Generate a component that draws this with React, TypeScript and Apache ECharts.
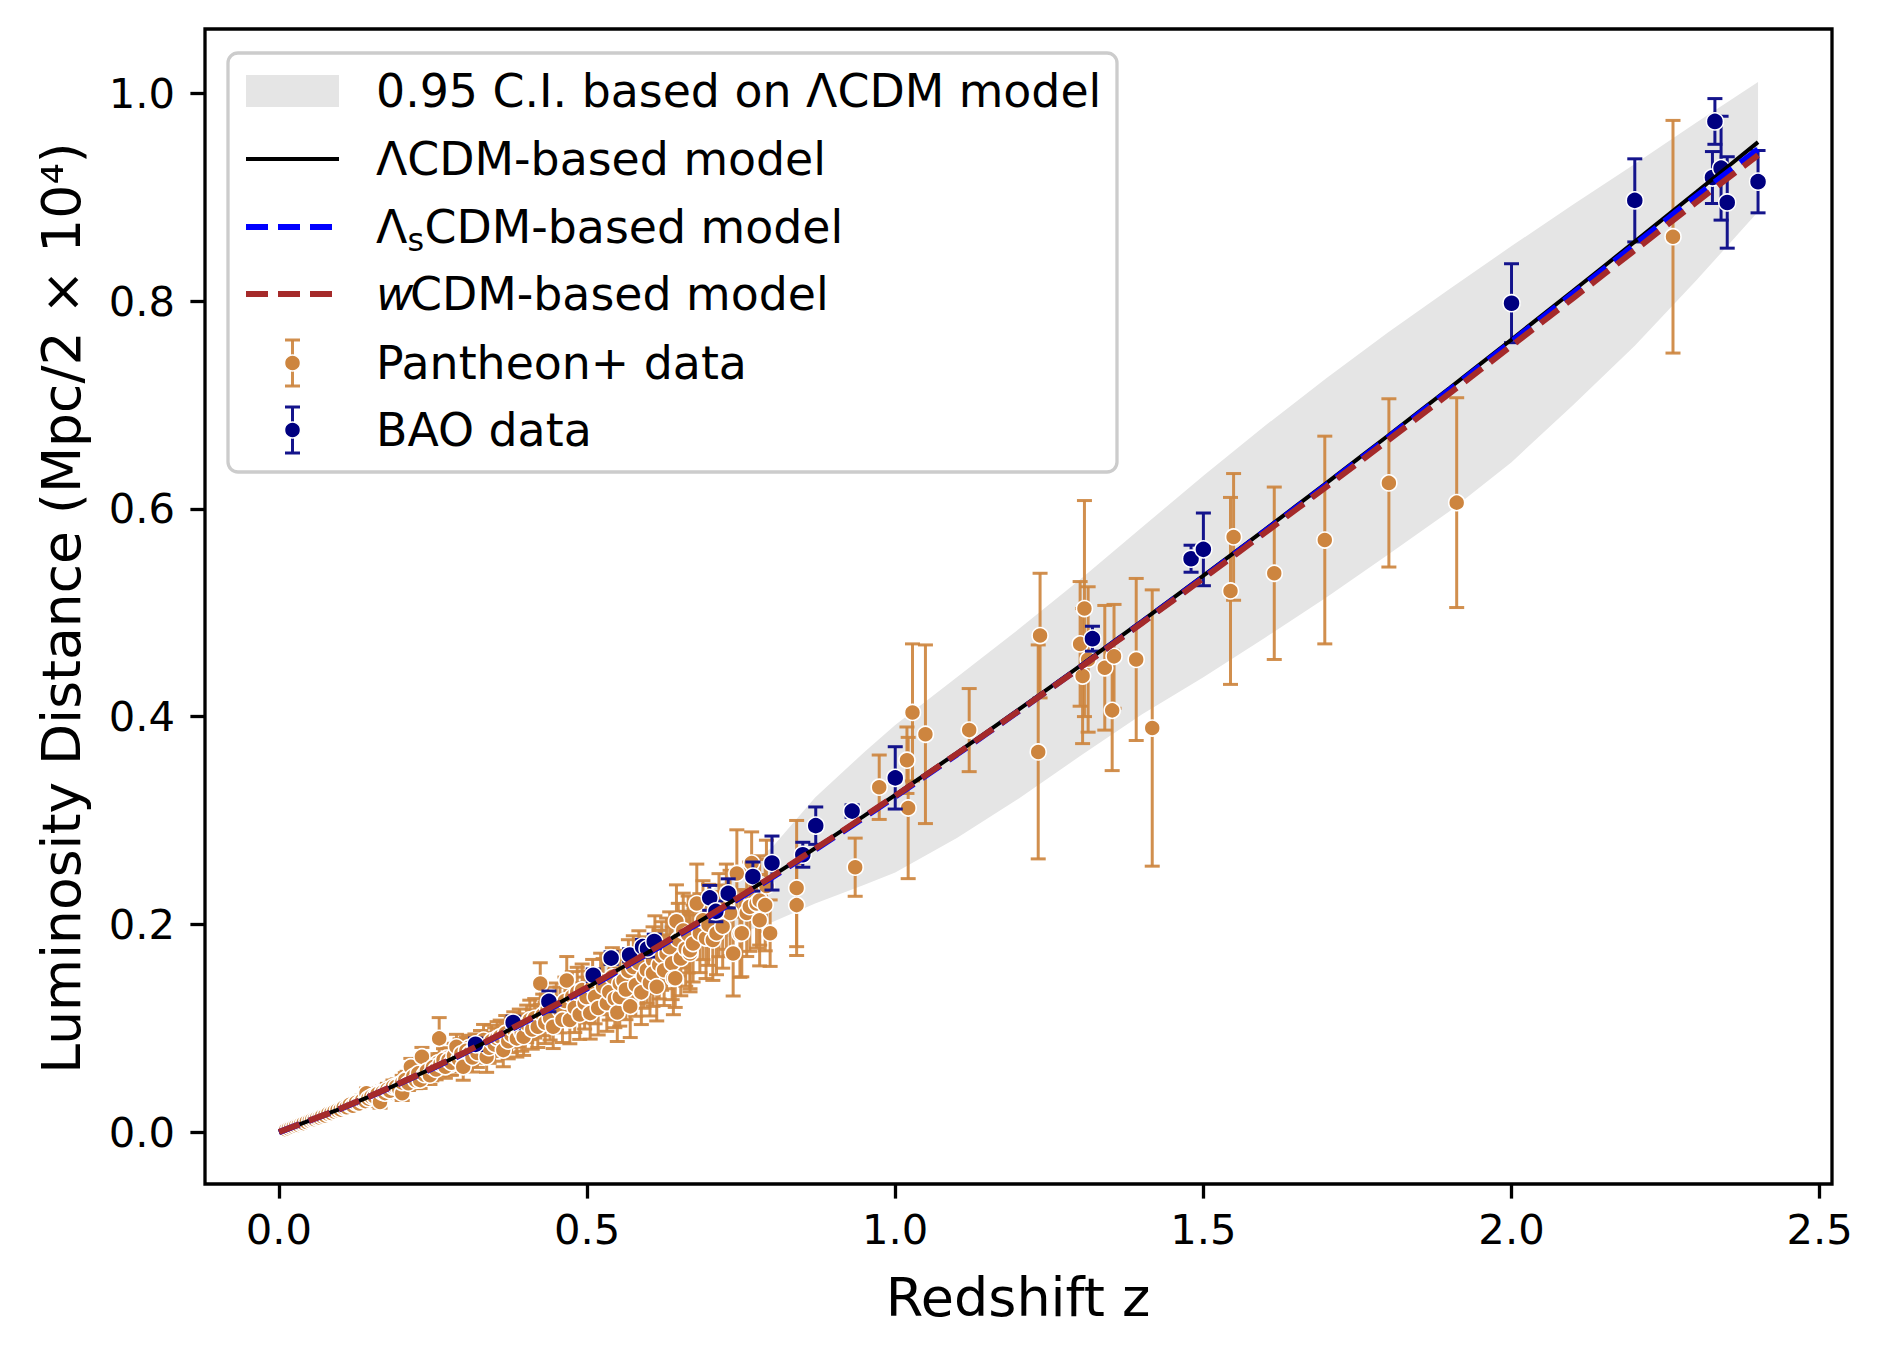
import React, { useEffect, useRef } from 'react';
import * as echarts from 'echarts';

const FONT = 'DejaVu Sans';

// ---- axes ----
const xTicks = [0, 0.5, 1.0, 1.5, 2.0, 2.5];
const yTicks = [0, 0.2, 0.4, 0.6, 0.8, 1.0];

// ---- model curves (z, luminosity distance) ----
const modelZ = [0, 0.1, 0.2, 0.3, 0.4, 0.5, 0.6, 0.7, 0.8, 0.9, 1.0, 1.1, 1.2, 1.3, 1.4, 1.5, 1.6, 1.7, 1.8, 1.9, 2.0, 2.1, 2.2, 2.3, 2.4];
const lcdmD = [0, 0.0226, 0.0481, 0.0762, 0.1067, 0.1391, 0.1734, 0.2092, 0.2464, 0.2849, 0.3245, 0.3651, 0.4066, 0.4489, 0.492, 0.5357, 0.5801, 0.6251, 0.6706, 0.7166, 0.7631, 0.81, 0.8573, 0.905, 0.9531];
const lsD = [0, 0.0225, 0.0479, 0.0758, 0.1061, 0.1383, 0.1724, 0.208, 0.2451, 0.2835, 0.323, 0.3636, 0.4051, 0.4474, 0.4905, 0.5342, 0.5785, 0.6234, 0.6688, 0.7147, 0.761, 0.8075, 0.8543, 0.9012, 0.9462];
const wD = [0, 0.0226, 0.0482, 0.0763, 0.1068, 0.1392, 0.1734, 0.2091, 0.2461, 0.2844, 0.3238, 0.3641, 0.4053, 0.4472, 0.4899, 0.5332, 0.5771, 0.6214, 0.6662, 0.7114, 0.757, 0.8029, 0.849, 0.8953, 0.9405];

// ---- 0.95 C.I. band ----
const bandZ = [0, 0.1, 0.2, 0.3, 0.4, 0.5, 0.6, 0.7, 0.75, 0.8, 0.87, 0.95, 1.0, 1.1, 1.2, 1.3, 1.4, 1.5, 1.6, 1.7, 1.8, 1.9, 2.0, 2.1, 2.2, 2.3, 2.4];
const bandUpper = [0, 0.024, 0.051, 0.081, 0.114, 0.15, 0.19, 0.232, 0.252, 0.274, 0.322, 0.366, 0.392, 0.438, 0.484, 0.532, 0.582, 0.632, 0.68, 0.726, 0.77, 0.812, 0.853, 0.893, 0.932, 0.972, 1.011];
const bandLower = [0, 0.021, 0.045, 0.072, 0.1, 0.128, 0.157, 0.182, 0.192, 0.202, 0.22, 0.238, 0.25, 0.283, 0.321, 0.362, 0.402, 0.438, 0.476, 0.515, 0.556, 0.598, 0.645, 0.7, 0.757, 0.82, 0.886];

// ---- Pantheon+ data [z, d, err] ----
const pantheonLow = [
  [0.011, 0.0024, 0.0008], [0.014, 0.003, 0.001], [0.018, 0.0041, 0.001], [0.022, 0.0047, 0.0012], [0.026, 0.0058, 0.0012],
  [0.03, 0.0063, 0.0014], [0.034, 0.0075, 0.0014], [0.038, 0.0081, 0.0016], [0.042, 0.0093, 0.0016], [0.047, 0.0101, 0.0018],
  [0.052, 0.0116, 0.0018], [0.056, 0.0121, 0.002], [0.06, 0.0131, 0.002], [0.064, 0.0139, 0.0022], [0.068, 0.0151, 0.0022],
  [0.072, 0.0154, 0.0025], [0.077, 0.0169, 0.0025], [0.082, 0.0177, 0.0028], [0.087, 0.0192, 0.0028], [0.092, 0.0199, 0.003],
  [0.097, 0.0214, 0.003], [0.102, 0.0221, 0.0032], [0.108, 0.0239, 0.0032], [0.112, 0.0246, 0.0035], [0.118, 0.0262, 0.0035],
  [0.122, 0.0268, 0.0038], [0.128, 0.0289, 0.0038], [0.133, 0.0291, 0.004], [0.138, 0.0316, 0.004], [0.148, 0.0331, 0.0045],
  [0.152, 0.0351, 0.0045], [0.158, 0.0355, 0.005], [0.162, 0.0379, 0.005], [0.166, 0.0358, 0.005], [0.174, 0.0396, 0.0055],
  [0.178, 0.0378, 0.0055], [0.183, 0.0419, 0.006], [0.188, 0.0401, 0.006], [0.192, 0.0452, 0.006], [0.198, 0.0449, 0.0065],
  [0.203, 0.0466, 0.0065], [0.208, 0.0515, 0.007], [0.212, 0.0487, 0.007], [0.216, 0.0512, 0.007], [0.22, 0.0545, 0.0075],
  [0.224, 0.0522, 0.0075], [0.228, 0.0578, 0.008], [0.234, 0.0571, 0.008], [0.238, 0.0612, 0.008], [0.243, 0.0593, 0.0085],
  [0.248, 0.0578, 0.0085], [0.252, 0.0641, 0.009], [0.258, 0.0665, 0.009], [0.265, 0.0638, 0.0095], [0.272, 0.0712, 0.01],
  [0.278, 0.0648, 0.01], [0.286, 0.0701, 0.011], [0.294, 0.0788, 0.011], [0.302, 0.0735, 0.012], [0.308, 0.0812, 0.012],
];
const pantheonA = [
  [0.012, 0.0025, 0.001], [0.016, 0.0034, 0.001], [0.02, 0.0044, 0.0012], [0.024, 0.0052, 0.001], [0.028, 0.006, 0.0015],
  [0.032, 0.0068, 0.0015], [0.036, 0.0079, 0.0014], [0.04, 0.0086, 0.0018], [0.045, 0.0097, 0.002], [0.05, 0.0108, 0.002],
  [0.054, 0.0118, 0.002], [0.058, 0.0123, 0.0022], [0.062, 0.0135, 0.002], [0.066, 0.0141, 0.0025], [0.07, 0.0153, 0.0025],
  [0.075, 0.016, 0.003], [0.08, 0.0176, 0.003], [0.085, 0.0183, 0.003], [0.09, 0.0197, 0.003], [0.095, 0.0209, 0.0035],
  [0.1, 0.0216, 0.0035], [0.105, 0.0236, 0.004], [0.11, 0.0238, 0.004], [0.115, 0.0262, 0.004], [0.12, 0.0254, 0.004],
  [0.125, 0.0282, 0.0045], [0.13, 0.0276, 0.0045], [0.135, 0.0305, 0.005], [0.14, 0.0298, 0.005], [0.142, 0.0374, 0.005],
  [0.145, 0.0322, 0.005], [0.15, 0.034, 0.005], [0.155, 0.0342, 0.0055], [0.16, 0.0366, 0.0055], [0.164, 0.029, 0.006],
  [0.168, 0.0382, 0.006], [0.172, 0.0375, 0.006], [0.176, 0.0409, 0.006], [0.18, 0.0398, 0.006], [0.185, 0.0436, 0.0065],
  [0.19, 0.0436, 0.0065], [0.195, 0.0418, 0.007], [0.2, 0.0374, 0.007], [0.2, 0.0476, 0.007],
];
const pantheonB = [
  [0.205, 0.0502, 0.007], [0.21, 0.047, 0.007], [0.214, 0.0629, 0.008], [0.218, 0.0535, 0.008], [0.222, 0.0498, 0.008],
  [0.226, 0.0565, 0.008], [0.229, 0.05, 0.008], [0.232, 0.0725, 0.009], [0.236, 0.0552, 0.009], [0.24, 0.0588, 0.009],
  [0.245, 0.0548, 0.009], [0.25, 0.0625, 0.01], [0.255, 0.0603, 0.01], [0.26, 0.0902, 0.02], [0.262, 0.0655, 0.01],
  [0.267, 0.0693, 0.011], [0.27, 0.0628, 0.011], [0.275, 0.0692, 0.011], [0.28, 0.0668, 0.012], [0.284, 0.0735, 0.012],
  [0.288, 0.0821, 0.012], [0.292, 0.0702, 0.012], [0.296, 0.0755, 0.013], [0.299, 0.0629, 0.013],
  [0.304, 0.0782, 0.013], [0.31, 0.076, 0.013], [0.314, 0.0718, 0.014], [0.318, 0.0805, 0.014], [0.322, 0.0762, 0.014],
  [0.327, 0.0838, 0.014], [0.332, 0.0886, 0.015], [0.337, 0.0725, 0.015], [0.341, 0.0812, 0.015], [0.345, 0.0878, 0.015],
  [0.35, 0.0842, 0.016], [0.354, 0.0903, 0.016], [0.359, 0.0918, 0.016], [0.364, 0.0789, 0.016], [0.368, 0.0952, 0.017],
  [0.372, 0.0875, 0.017], [0.377, 0.0935, 0.017], [0.381, 0.0988, 0.017], [0.386, 0.0902, 0.018], [0.39, 0.1004, 0.018],
  [0.394, 0.0958, 0.018], [0.397, 0.0918, 0.018],
];
const pantheonC = [
  [0.402, 0.1042, 0.018], [0.407, 0.108, 0.019], [0.411, 0.0988, 0.019], [0.415, 0.1095, 0.019], [0.42, 0.1014, 0.02],
  [0.424, 0.143, 0.02], [0.428, 0.1128, 0.02], [0.432, 0.1052, 0.02], [0.436, 0.1185, 0.021], [0.44, 0.1096, 0.021],
  [0.445, 0.1014, 0.021], [0.45, 0.1215, 0.022], [0.456, 0.1175, 0.022], [0.46, 0.1082, 0.022], [0.464, 0.1262, 0.023],
  [0.467, 0.146, 0.023], [0.472, 0.108, 0.023], [0.476, 0.1305, 0.024], [0.48, 0.1198, 0.024], [0.484, 0.1346, 0.024],
  [0.488, 0.1132, 0.024], [0.492, 0.1368, 0.025], [0.496, 0.1242, 0.025], [0.499, 0.13, 0.025],
  [0.505, 0.1145, 0.025], [0.509, 0.1402, 0.026], [0.513, 0.1302, 0.026], [0.518, 0.1195, 0.026], [0.522, 0.1452, 0.027],
  [0.526, 0.14, 0.027], [0.532, 0.124, 0.027], [0.536, 0.1348, 0.027], [0.541, 0.1495, 0.028], [0.545, 0.1285, 0.028],
  [0.549, 0.1152, 0.028], [0.553, 0.13, 0.028], [0.553, 0.143, 0.029], [0.559, 0.146, 0.029], [0.563, 0.1372, 0.029],
  [0.567, 0.1552, 0.03], [0.57, 0.121, 0.03], [0.575, 0.159, 0.03], [0.579, 0.1415, 0.03], [0.584, 0.1628, 0.031],
  [0.588, 0.1345, 0.031], [0.592, 0.1502, 0.031], [0.597, 0.156, 0.032],
];
const pantheonD = [
  [0.602, 0.1438, 0.032], [0.607, 0.1656, 0.032], [0.607, 0.153, 0.032], [0.61, 0.1752, 0.033], [0.613, 0.14, 0.033],
  [0.617, 0.1612, 0.033], [0.621, 0.1695, 0.033], [0.625, 0.1558, 0.034], [0.629, 0.172, 0.034], [0.634, 0.178, 0.034],
  [0.638, 0.1625, 0.035], [0.64, 0.148, 0.035], [0.643, 0.148, 0.028], [0.645, 0.203, 0.035], [0.648, 0.1852, 0.035],
  [0.652, 0.1672, 0.036], [0.656, 0.194, 0.036], [0.66, 0.1765, 0.036], [0.664, 0.1902, 0.037], [0.667, 0.172, 0.037],
  [0.667, 0.175, 0.037], [0.672, 0.1815, 0.037], [0.678, 0.22, 0.038], [0.683, 0.1915, 0.038], [0.688, 0.204, 0.038],
  [0.693, 0.1868, 0.039], [0.697, 0.1995, 0.039],
  [0.704, 0.185, 0.039], [0.71, 0.1915, 0.04], [0.714, 0.2088, 0.04], [0.72, 0.1978, 0.04], [0.726, 0.217, 0.041],
  [0.732, 0.211, 0.041], [0.737, 0.172, 0.041], [0.743, 0.249, 0.042], [0.748, 0.191, 0.042], [0.751, 0.1915, 0.042],
  [0.759, 0.211, 0.042], [0.764, 0.217, 0.043], [0.767, 0.259, 0.03], [0.775, 0.22, 0.043], [0.78, 0.223, 0.043],
  [0.78, 0.204, 0.044], [0.789, 0.2185, 0.044], [0.791, 0.237, 0.044], [0.797, 0.1915, 0.032],
];
const pantheonHigh = [
  [0.84, 0.235, 0.065], [0.84, 0.2185, 0.04], [0.935, 0.255, 0.028], [0.974, 0.332, 0.031], [1.019, 0.358, 0.032],
  [1.021, 0.312, 0.068], [1.028, 0.404, 0.066], [1.049, 0.383, 0.086], [1.12, 0.387, 0.04], [1.232, 0.366, 0.103],
  [1.235, 0.478, 0.06], [1.3, 0.47, 0.06], [1.304, 0.439, 0.065], [1.307, 0.504, 0.104], [1.313, 0.455, 0.07],
  [1.34, 0.447, 0.06], [1.352, 0.406, 0.058], [1.355, 0.458, 0.05], [1.391, 0.455, 0.078], [1.417, 0.389, 0.133],
  [1.544, 0.521, 0.09], [1.549, 0.573, 0.061], [1.615, 0.538, 0.083], [1.697, 0.57, 0.1], [1.801, 0.625, 0.081],
  [1.911, 0.606, 0.101], [2.262, 0.862, 0.112],
];

// ---- BAO data [z, d, err] ----
const bao = [
  [0.319, 0.0845, 0.006], [0.38, 0.1055, 0.006], [0.438, 0.1258, 0.01], [0.51, 0.151, 0.006], [0.539, 0.1675, 0.006],
  [0.569, 0.1705, 0.006], [0.59, 0.1785, 0.007], [0.598, 0.1765, 0.008], [0.609, 0.1835, 0.007], [0.699, 0.2255, 0.012],
  [0.709, 0.2125, 0.01], [0.729, 0.2298, 0.014], [0.769, 0.246, 0.014], [0.8, 0.259, 0.026], [0.85, 0.267, 0.012],
  [0.871, 0.295, 0.018], [0.93, 0.309, 0.006], [1.0, 0.341, 0.03], [1.32, 0.475, 0.012], [1.48, 0.552, 0.013],
  [1.5, 0.561, 0.035], [2.0, 0.798, 0.038], [2.2, 0.897, 0.04], [2.33, 0.973, 0.022], [2.326, 0.919, 0.025],
  [2.34, 0.928, 0.05], [2.35, 0.895, 0.044], [2.4, 0.915, 0.03],
];

const pantheon = [...pantheonLow, ...pantheonA, ...pantheonB, ...pantheonC, ...pantheonD, ...pantheonHigh];

const PERU = '#CD853F';
const PERU_BAR = 'rgba(205,133,63,0.92)';
const NAVY = '#000080';
const NAVY_BAR = '#14148c';

function errRender(color: string, capHalf: number, lw: number) {
  return (params: any, api: any) => {
    const x = api.value(0);
    const y = api.value(1);
    const e = api.value(2);
    const t = api.coord([x, y + e]);
    const b = api.coord([x, y - e]);
    return {
      type: 'group',
      children: [
        { type: 'line', shape: { x1: t[0], y1: t[1], x2: b[0], y2: b[1] }, style: { stroke: color, lineWidth: lw } },
        { type: 'line', shape: { x1: t[0] - capHalf, y1: t[1], x2: t[0] + capHalf, y2: t[1] }, style: { stroke: color, lineWidth: lw } },
        { type: 'line', shape: { x1: b[0] - capHalf, y1: b[1], x2: b[0] + capHalf, y2: b[1] }, style: { stroke: color, lineWidth: lw } },
      ],
    };
  };
}

function bandRender(params: any, api: any) {
  if (params.dataIndex !== 0) return { type: 'group', children: [] };
  const pts: number[][] = [];
  for (let i = 0; i < bandZ.length; i++) pts.push(api.coord([bandZ[i], bandUpper[i]]));
  for (let i = bandZ.length - 1; i >= 0; i--) pts.push(api.coord([bandZ[i], bandLower[i]]));
  return { type: 'polygon', shape: { points: pts }, style: { fill: '#e5e5e5' } };
}

function buildLegend() {
  const L = 228, T = 53, W = 889, H = 419;
  const rows = [91, 159, 227, 294, 363, 430];
  const hx1 = 246, hx2 = 339, hc = 292.5, tx = 376;
  const fs = 45.8;
  const txt = (x: number, y: number, text: string, extra: any = {}) => ({
    type: 'text', x, y,
    style: { text, fontSize: fs, fontFamily: FONT, fill: '#000', align: 'left', verticalAlign: 'middle', ...extra },
  });
  const errHandle = (y: number, bar: string, fill: string) => ([
    { type: 'line', shape: { x1: hc, y1: y - 23, x2: hc, y2: y + 23 }, style: { stroke: bar, lineWidth: 3 } },
    { type: 'line', shape: { x1: hc - 7.5, y1: y - 23, x2: hc + 7.5, y2: y - 23 }, style: { stroke: bar, lineWidth: 3 } },
    { type: 'line', shape: { x1: hc - 7.5, y1: y + 23, x2: hc + 7.5, y2: y + 23 }, style: { stroke: bar, lineWidth: 3 } },
    { type: 'circle', shape: { cx: hc, cy: y, r: 8 }, style: { fill, stroke: '#fff', lineWidth: 1.5 } },
  ]);
  return [
    {
      type: 'group', z: 100, children: [
        { type: 'rect', shape: { x: L, y: T, width: W, height: H, r: 10 }, style: { fill: 'rgba(255,255,255,0.8)', stroke: '#cccccc', lineWidth: 3.3 } },
        { type: 'rect', shape: { x: hx1, y: rows[0] - 16, width: hx2 - hx1, height: 32 }, style: { fill: '#e5e5e5' } },
        txt(tx, rows[0], '0.95 C.I. based on ΛCDM model'),
        { type: 'line', shape: { x1: hx1, y1: rows[1], x2: hx2, y2: rows[1] }, style: { stroke: '#000', lineWidth: 4 } },
        txt(tx, rows[1], 'ΛCDM-based model'),
        { type: 'line', shape: { x1: hx1, y1: rows[2], x2: hx2, y2: rows[2] }, style: { stroke: '#0000ff', lineWidth: 6, lineDash: [22, 10] } },
        txt(tx, rows[2], 'Λ'),
        txt(tx + 31.5, rows[2] + 13, 's', { fontSize: 32 }),
        txt(tx + 48.5, rows[2], 'CDM-based model'),
        { type: 'line', shape: { x1: hx1, y1: rows[3], x2: hx2, y2: rows[3] }, style: { stroke: '#a52a2a', lineWidth: 6, lineDash: [22, 10] } },
        txt(tx, rows[3], 'w', { fontStyle: 'italic' }),
        txt(tx + 34, rows[3], 'CDM-based model'),
        ...errHandle(rows[4], PERU_BAR, PERU),
        txt(tx, rows[4], 'Pantheon+ data'),
        ...errHandle(rows[5], NAVY_BAR, NAVY),
        txt(tx, rows[5], 'BAO data'),
      ],
    },
  ];
}

const option: any = {
  animation: false,
  backgroundColor: '#ffffff',
  grid: { left: 205, right: 51, top: 29, bottom: 170, show: true, borderColor: '#000', borderWidth: 3.3, backgroundColor: 'transparent' },
  xAxis: {
    type: 'value', min: -0.12, max: 2.52,
    axisLine: { show: false, onZero: false },
    splitLine: { show: false },
    axisTick: { show: true, inside: false, length: 14.6, lineStyle: { color: '#000', width: 3.3 }, customValues: xTicks },
    axisLabel: { customValues: xTicks, formatter: (v: number) => v.toFixed(1), fontSize: 41.7, fontFamily: FONT, color: '#000', margin: 24 },
  },
  yAxis: {
    type: 'value', min: -0.05, max: 1.062,
    axisLine: { show: false, onZero: false },
    splitLine: { show: false },
    axisTick: { show: true, inside: false, length: 14.6, lineStyle: { color: '#000', width: 3.3 }, customValues: yTicks },
    axisLabel: { customValues: yTicks, formatter: (v: number) => v.toFixed(1), fontSize: 41.7, fontFamily: FONT, color: '#000', margin: 30 },
  },
  graphic: [
    { type: 'text', x: 1018, y: 1297, style: { text: 'Redshift z', fontSize: 54, fontFamily: FONT, fill: '#000', align: 'center', verticalAlign: 'middle' } },
    { type: 'text', x: 61, y: 608, rotation: Math.PI / 2, style: { text: 'Luminosity Distance (Mpc/2 × 10⁴)', fontSize: 53.5, fontFamily: FONT, fill: '#000', align: 'center', verticalAlign: 'middle' } },
    ...buildLegend(),
  ],
  series: [
    { type: 'custom', name: 'band', renderItem: bandRender, data: bandZ.map((z, i) => [z, bandLower[i], bandUpper[i]]), encode: { x: 0, y: 1 }, silent: true, z: 1 },
    { type: 'custom', name: 'pantheonErr', renderItem: errRender(PERU_BAR, 7.5, 3), data: pantheon, encode: { x: 0, y: 1 }, silent: true, z: 2 },
    { type: 'scatter', name: 'Pantheon+ data', data: pantheon.map((p) => [p[0], p[1]]), symbolSize: 16, itemStyle: { color: PERU, borderColor: '#fff', borderWidth: 1.6, opacity: 1 }, z: 3 },
    { type: 'custom', name: 'baoErr', renderItem: errRender(NAVY_BAR, 7.5, 3), data: bao, encode: { x: 0, y: 1 }, silent: true, z: 4 },
    { type: 'scatter', name: 'BAO data', data: bao.map((p) => [p[0], p[1]]), symbolSize: 17, itemStyle: { color: NAVY, borderColor: '#fff', borderWidth: 1.5, opacity: 1 }, z: 5 },
    { type: 'line', name: 'ΛCDM-based model', data: modelZ.map((z, i) => [z, lcdmD[i]]), showSymbol: false, symbol: 'none', smooth: 0.2, lineStyle: { color: '#000', width: 4 }, z: 6 },
    { type: 'line', name: 'ΛsCDM-based model', data: modelZ.map((z, i) => [z, lsD[i]]), showSymbol: false, symbol: 'none', smooth: 0.2, lineStyle: { color: '#0000ff', width: 6, type: [22, 10] }, z: 7 },
    { type: 'line', name: 'wCDM-based model', data: modelZ.map((z, i) => [z, wD[i]]), showSymbol: false, symbol: 'none', smooth: 0.2, lineStyle: { color: '#a52a2a', width: 6, type: [22, 10] }, z: 8 },
  ],
};

export default function App() {
  const ref = useRef<HTMLDivElement>(null);
  useEffect(() => {
    document.body.style.margin = '0';
    const chart = echarts.init(ref.current as HTMLDivElement, null, { renderer: 'svg' });
    chart.setOption(option);
    return () => chart.dispose();
  }, []);
  return <div ref={ref} style={{ width: 1883, height: 1354 }} />;
}
